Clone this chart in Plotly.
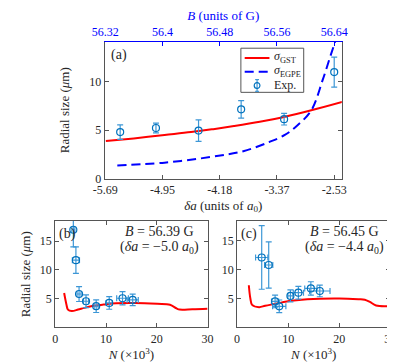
import plotly.graph_objects as go

# panel (a): theory curves vs. B (top axis), bottom axis labelled in delta a
b_ticks = [56.32, 56.40, 56.48, 56.56, 56.64]
b_labels = ['56.32', '56.4', '56.48', '56.56', '56.64']
da_ticks = ['-5.69', '-4.95', '-4.18', '-3.37', '-2.53']

gst_B = [56.321, 56.36, 56.403, 56.44, 56.469, 56.50, 56.536, 56.570, 56.608, 56.651]
gst_r = [3.87, 4.15, 4.5, 4.8, 5.08, 5.42, 5.86, 6.36, 7.04, 7.9]

egpe_B = [56.337, 56.403, 56.469, 56.513, 56.549, 56.571, 56.588, 56.608, 56.624, 56.635, 56.643]
egpe_r = [1.35, 1.65, 2.25, 2.83, 3.77, 4.5, 5.45, 7.04, 10.2, 12.7, 14.5]

exp_B = [56.341, 56.391, 56.4505, 56.510, 56.570, 56.640]
exp_r = [4.8, 5.22, 4.95, 7.14, 6.13, 10.98]
exp_err = [0.75, 0.5, 1.1, 0.9, 0.6, 1.55]

# panel (b): B = 56.39 G
b_N = [1.75, 2.2, 2.5, 3.25, 4.5, 5.75, 7.5, 9.5, 12, 15.75, 20.1, 22.6, 23.9, 24.5, 27, 30]
b_r = [5.98, 4.0, 3.1, 2.85, 3.1, 3.4, 3.75, 3.97, 4.2, 4.25, 4.1, 3.95, 3.3, 3.1, 3.15, 3.25]
b_expN = [3.56, 4.07, 4.69, 6.06, 8.06, 10.63, 13.25, 15.25]
b_expR = [17.0, 11.7, 5.81, 4.55, 3.69, 4.26, 5.07, 4.78]
b_errR = [3.0, 2.3, 1.3, 1.1, 1.1, 1.1, 1.15, 1.0]
b_errN = [0.3, 0.7, 0.4, 0.5, 0.4, 0.6, 1.15, 1.1]

# panel (c): B = 56.45 G
c_N = [2.3, 2.6, 2.94, 4.31, 5.5, 7.44, 10.6, 13.75, 20, 23.75, 25, 26, 27.2, 30]
c_r = [7.3, 5.0, 3.9, 3.5, 3.75, 4.07, 4.6, 4.88, 5.0, 4.88, 4.8, 4.4, 3.8, 3.7]
c_expN = [4.82, 6.19, 7.44, 8.25, 10.44, 12.0, 14.44, 16.19]
c_expR = [12.1, 10.8, 4.5, 3.64, 5.45, 6.0, 6.75, 6.3]
c_errR = [5.5, 4.0, 1.1, 1.1, 1.05, 1.1, 1.15, 1.0]
c_errN = [1.2, 0.8, 0.7, 1.3, 0.5, 1.0, 1.2, 2.0]

font = 'Liberation Serif, serif'
red = '#ff0000'
blue = '#0000ff'
mblue = '#0072bd'
ebar = '#3d97d6'
axcol = '#555555'
txt = '#262626'

fig = go.Figure()

fig.add_trace(go.Scatter(x=gst_B, y=gst_r, mode='lines', line=dict(color=red, width=2, shape='spline'),
                         showlegend=False, xaxis='x', yaxis='y'))
fig.add_trace(go.Scatter(x=egpe_B, y=egpe_r, mode='lines',
                         line=dict(color=blue, width=2, dash='9px,5px', shape='spline'),
                         showlegend=False, xaxis='x', yaxis='y'))
fig.add_trace(go.Scatter(x=exp_B, y=exp_r, mode='markers', showlegend=False,
                         marker=dict(symbol='circle-open', size=7, color=mblue, line=dict(width=1.2)),
                         error_y=dict(type='data', array=exp_err, color=ebar, thickness=1.2, width=3),
                         xaxis='x', yaxis='y'))
# invisible trace so the top B axis is drawn
fig.add_trace(go.Scatter(x=b_ticks, y=[None] * len(b_ticks), mode='markers', showlegend=False,
                         hoverinfo='skip', xaxis='x2', yaxis='y'))

for xs, ys, ex, ey, xr, yr, ax, ay in [
        (b_N, b_r, b_expN, b_expR, b_errN, b_errR, 'x3', 'y3'),
        (c_N, c_r, c_expN, c_expR, c_errN, c_errR, 'x4', 'y4')]:
    fig.add_trace(go.Scatter(x=xs, y=ys, mode='lines', line=dict(color=red, width=2, shape='spline'),
                             showlegend=False, xaxis=ax, yaxis=ay))
    fig.add_trace(go.Scatter(x=ex, y=ey, mode='markers', showlegend=False,
                             marker=dict(symbol='circle-open', size=7, color=mblue, line=dict(width=1.2)),
                             error_y=dict(type='data', array=yr, color=ebar, thickness=1.2, width=3),
                             error_x=dict(type='data', array=xr, color=ebar, thickness=1.2, width=3),
                             xaxis=ax, yaxis=ay))

tickfont = dict(family=font, size=12, color=txt)
titlefont = dict(family=font, size=13, color=txt)
base = dict(showline=True, linecolor=axcol, linewidth=1, ticks='inside', ticklen=4,
            tickcolor=axcol, showgrid=False, zeroline=False, tickfont=tickfont)

Bmin, Bmax = 56.3195, 56.6506

fig.update_layout(
    width=395, height=362,
    margin=dict(l=0, r=0, t=0, b=0),
    paper_bgcolor='white', plot_bgcolor='white',
    font=dict(family=font, color=txt),
    showlegend=False,
    xaxis=dict(base, domain=[0.2228, 0.8532], range=[Bmin, Bmax], anchor='y',
               tickvals=b_ticks, ticktext=da_ticks,
               title=dict(text='<i>δa</i> (units of <i>a</i><sub>0</sub>)', font=titlefont, standoff=4)),
    xaxis2=dict(base, overlaying='x', side='top', anchor='y', range=[Bmin, Bmax],
                tickvals=b_ticks, ticktext=b_labels,
                linecolor=blue, tickcolor=blue, tickfont=dict(family=font, size=12, color=blue),
                title=dict(text='<i>B</i> (units of G)', font=dict(family=font, size=13, color=blue),
                           standoff=4)),
    yaxis=dict(base, domain=[0.5193, 0.9047], range=[0, 14.1], anchor='x', mirror='ticks',
               tickvals=[0, 5, 10],
               title=dict(text='Radial size (<i>μ</i>m)', font=titlefont, standoff=16)),
    xaxis3=dict(base, domain=[0.0911, 0.4962], range=[0, 30], anchor='y3', mirror='ticks',
                tickvals=[0, 10, 20, 30],
                title=dict(text='<i>N</i> (×10<sup>3</sup>)', font=titlefont, standoff=0)),
    yaxis3=dict(base, domain=[0.1003, 0.3997], range=[0, 18.5], anchor='x3', mirror='ticks',
                tickvals=[5, 10, 15],
                title=dict(text='Radial size (<i>μ</i>m)', font=titlefont, standoff=6)),
    xaxis4=dict(base, domain=[0.5747, 0.9823], range=[0, 30], anchor='y4', mirror='ticks',
                tickvals=[0, 10, 20, 30],
                title=dict(text='<i>N</i> (×10<sup>3</sup>)', font=titlefont, standoff=0)),
    yaxis4=dict(base, domain=[0.1003, 0.4014], range=[0, 18.5], anchor='x4', mirror='ticks',
                tickvals=[5, 10, 15]),
)

# legend box for panel (a), drawn in pixel-based paper coordinates
W, H = 395, 362
def px(x): return x / W
def py(y): return 1 - y / H

fig.add_shape(type='rect', xref='paper', yref='paper', x0=px(231), x1=px(297), y0=py(86), y1=py(41),
              line=dict(color=axcol, width=1), fillcolor='white', layer='above')
fig.add_shape(type='line', xref='paper', yref='paper', x0=px(235), x1=px(261), y0=py(51), y1=py(51),
              line=dict(color=red, width=2), layer='above')
fig.add_shape(type='line', xref='paper', yref='paper', x0=px(235), x1=px(261), y0=py(65), y1=py(65),
              line=dict(color=blue, width=2, dash='9px,5px'), layer='above')
fig.add_shape(type='line', xref='paper', yref='paper', x0=px(248), x1=px(248), y0=py(73), y1=py(85),
              line=dict(color=ebar, width=1.2), layer='above')
for yy in (73, 85):
    fig.add_shape(type='line', xref='paper', yref='paper', x0=px(246), x1=px(250), y0=py(yy), y1=py(yy),
                  line=dict(color=ebar, width=1.2), layer='above')
fig.add_shape(type='circle', xref='paper', yref='paper', x0=px(245), x1=px(251), y0=py(82), y1=py(76),
              line=dict(color=mblue, width=1.2), fillcolor='rgba(0,0,0,0)', layer='above')

leg = [('<i>σ</i><sub>GST</sub>', 50), ('<i>σ</i><sub>EGPE</sub>', 64), ('Exp.', 79)]
for t, yy in leg:
    fig.add_annotation(xref='paper', yref='paper', x=px(264), y=py(yy), text=t, showarrow=False,
                       xanchor='left', yanchor='middle', font=dict(family=font, size=12, color=txt))

ann = [
    dict(text='(a)', x=0.2228, y=0.9047, xanchor='left', yanchor='top', xshift=4, yshift=-3),
    dict(text='(b)', x=0.0911, y=0.3997, xanchor='left', yanchor='top', xshift=2, yshift=-3),
    dict(text='(c)', x=0.5747, y=0.4014, xanchor='left', yanchor='top', xshift=2, yshift=-3),
    dict(text='<i>B</i> = 56.39 G', x=145 / 395, y=1 - 228 / 362, xanchor='center', yanchor='middle'),
    dict(text='(<i>δa</i> = −5.0 <i>a</i><sub>0</sub>)', x=145 / 395, y=1 - 244 / 362,
         xanchor='center', yanchor='middle'),
    dict(text='<i>B</i> = 56.45 G', x=340 / 395, y=1 - 228 / 362, xanchor='center', yanchor='middle'),
    dict(text='(<i>δa</i> = −4.4 <i>a</i><sub>0</sub>)', x=340 / 395, y=1 - 244 / 362,
         xanchor='center', yanchor='middle'),
]
for a in ann:
    fig.add_annotation(xref='paper', yref='paper', showarrow=False,
                       font=dict(family=font, size=14, color=txt), **a)

fig.write_html('out.html')
